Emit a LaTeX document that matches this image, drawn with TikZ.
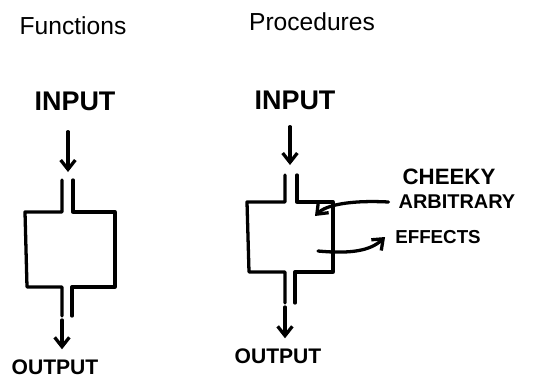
\documentclass[tikz,border=0pt]{standalone}
\usepackage{fontspec}
\setmainfont{Liberation Sans}
\usetikzlibrary{arrows.meta, positioning}
\tikzset{
  title/.style={font=\fontsize{21}{24}\selectfont, inner sep=0pt},
  hand/.style={font=\fontsize{#1}{#1}\selectfont\bfseries, inner sep=0pt},
  hand/.default=20,
  pen/.style={line width=2.8pt, line cap=round, line join=round},
  arrow/.style={pen, -{Straight Barb[length=2.8mm, width=4.4mm]}}
}
\begin{document}
\begin{tikzpicture}[x=0.03cm, y=-0.03cm]
  \useasboundingbox (0,0) rectangle (534,380);
  % titles
  \node[title] (ftitle) at (73,26) {Functions};
  \node[title] (ptitle) at (312,22) {Procedures};
  % hand labels
  \node[hand=23] (fin) at (75,101) {INPUT};
  \node[hand=23] (pin) at (295,100) {INPUT};
  \node[hand=18] (fout) at (55,367) {OUTPUT};
  \node[hand=18] (pout) at (278,356) {OUTPUT};
  \node[hand=19] (cheeky) at (449,177) {CHEEKY};
  \node[hand=17] (arb) at (457,202) {ARBITRARY};
  \node[hand=16] (eff) at (438,237) {EFFECTS};
  % function box
  \coordinate (fin-tip) at (68,172);
  \coordinate (fout-top) at (62,320);
  \draw[pen] (62,180) -- (62,212) -- (25,212) -- (27,287) -- (62,287) -- (62,316);
  \draw[pen] (73,180) -- (73,212) -- (115,212) -- (115,287) -- (72,287) -- (72,316);
  \draw[arrow] (fin.south -| fin-tip) ++(0,21) -- (fin-tip);
  \draw[arrow] (fout-top) -- ([yshift=0.3cm]fout.north -| fout-top);
  % procedure box
  \coordinate (pin-tip) at (290,165);
  \coordinate (pout-top) at (285,307);
  \draw[pen] (285,175) -- (285,202) -- (247,202) -- (249,272) -- (285,272) -- (285,303);
  \draw[pen] (297,175) -- (297,202) -- (333,202) -- (333,272) -- (295,272) -- (295,303);
  \draw[arrow] (pin.south -| pin-tip) ++(0,17) -- (pin-tip);
  \draw[arrow] (pout-top) -- ([yshift=0.3cm]pout.north -| pout-top);
  % side effects
  \coordinate (eff-in) at (315,216);
  \coordinate (eff-out) at (318,251);
  \draw[arrow] ([xshift=-0.3cm]arb.west) .. controls (350,200) and (326,205) .. (eff-in);
  \draw[arrow] (eff-out) .. controls (350,254) and (370,251) .. ([xshift=-0.3cm]eff.west);
\end{tikzpicture}
\end{document}
